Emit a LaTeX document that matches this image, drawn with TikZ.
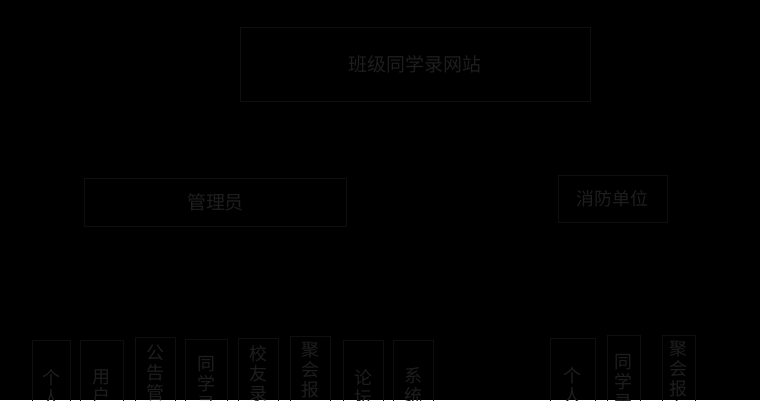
\documentclass[tikz,border=0pt]{standalone}
\usepackage{fontspec}
\setmainfont{Noto Sans CJK SC}
\definecolor{boxline}{RGB}{15,15,15}
\definecolor{boxtext}{RGB}{30,30,30}

\begin{document}
\begin{tikzpicture}[x=1bp,y=-1bp,
    box/.style={draw=boxline,line width=1bp,inner sep=0pt,text=boxtext},
    vbox/.style={draw=boxline,line width=1bp,minimum height=120bp,anchor=north},
    vtext/.style={text=boxtext,inner sep=0pt,anchor=north,align=center,
      font=\fontsize{18}{20}\selectfont}]
        % border
        \fill[black] (0,0) rectangle (760,400);
        \useasboundingbox (0,0) rectangle (760,400);
        % top level
        \node[box,minimum width=350bp,minimum height=74bp,font=\fontsize{19}{20}\selectfont]
            (site) at (415,64) {班级同学录网站};
        % roles
        \node[box,minimum width=261bp,minimum height=48bp,font=\fontsize{19}{20}\selectfont]
            (admin) at (215.5,202) {管理员};
        \node[box,minimum width=109bp,minimum height=47bp,font=\fontsize{18}{20}\selectfont]
            (unit) at (612.5,198.5) {消防单位};
        % admin functions
        \node[vbox,minimum width=38bp] (aA) at (51,340) {};
        \node[vbox,minimum width=43bp] (aB) at (101.5,340) {};
        \node[vbox,minimum width=40bp] (aC) at (155,337) {};
        \node[vbox,minimum width=42bp] (aD) at (206,339) {};
        \node[vbox,minimum width=40bp] (aE) at (258,338) {};
        \node[vbox,minimum width=40bp] (aF) at (310,336) {};
        \node[vbox,minimum width=40bp] (aG) at (363,340) {};
        \node[vbox,minimum width=40bp] (aH) at (413,340) {};
        \node[vtext] (tA) at (aA.north |- 0,369) {个\\人\\信\\息};
        \node[vtext] (tB) at (aB.north |- 0,369) {用\\户\\管\\理};
        \node[vtext] (tC) at (aC.north |- 0,345) {公\\告\\管\\理};
        \node[vtext] (tD) at (aD.north |- 0,356) {同\\学\\录\\管};
        \node[vtext] (tE) at (aE.north |- 0,345) {校\\友\\录\\管};
        \node[vtext] (tF) at (aF.north |- 0,342) {聚\\会\\报\\名};
        \node[vtext] (tG) at (aG.north |- 0,369) {论\\坛\\管\\理};
        \node[vtext] (tH) at (aH.north |- 0,367) {系\\统\\设\\置};
        % unit functions
        \node[vbox,minimum width=45bp] (bA) at (572.5,338) {};
        \node[vbox,minimum width=33bp] (bB) at (623.5,335) {};
        \node[vbox,minimum width=33bp] (bC) at (678.5,335) {};
        \node[vtext] (uA) at (bA.north |- 0,367) {个\\人\\信\\息};
        \node[vtext] (uB) at (bB.north |- 0,354) {同\\学\\录\\管};
        \node[vtext] (uC) at (bC.north |- 0,341) {聚\\会\\报\\名};
    \end{tikzpicture}
\end{document}
